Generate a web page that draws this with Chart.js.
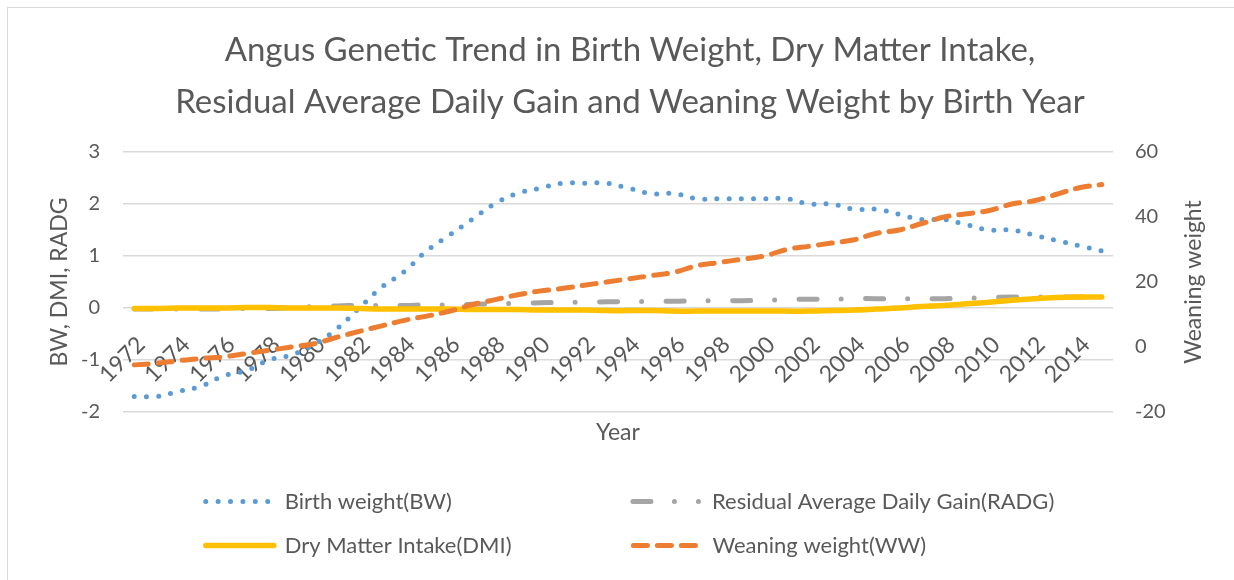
<!DOCTYPE html>
<html><head><meta charset="utf-8">
<script src="https://cdn.jsdelivr.net/npm/chart.js@4.4.1/dist/chart.umd.min.js"></script>
<style>
html,body{margin:0;padding:0;background:#fff;overflow:hidden;}
#wrap{position:relative;width:1234px;height:580px;overflow:hidden;}
#frame{position:absolute;left:7px;top:7px;width:1300px;height:700px;border:1px solid #d9d9d9;box-sizing:border-box;}
canvas{position:absolute;left:0;top:0;}
</style></head><body>
<div id="wrap"><div id="frame"></div><canvas id="c" width="1234" height="580"></canvas></div>
<script>
// ---- data ----
const years = ['1972','1973','1974','1975','1976','1977','1978','1979','1980','1981',
  '1982','1983','1984','1985','1986','1987','1988','1989','1990','1991',
  '1992','1993','1994','1995','1996','1997','1998','1999','2000','2001',
  '2002','2003','2004','2005','2006','2007','2008','2009','2010','2011',
  '2012','2013','2014','2015'];
const birthWeight = [-1.7,-1.7,-1.6,-1.5,-1.3,-1.2,-1.0,-0.9,-0.7,-0.4,
  0.0,0.4,0.7,1.1,1.4,1.7,2.0,2.2,2.3,2.4,
  2.4,2.4,2.3,2.2,2.2,2.1,2.1,2.1,2.1,2.1,
  2.0,2.0,1.9,1.9,1.8,1.7,1.7,1.6,1.5,1.5,
  1.4,1.3,1.2,1.1];
const radg = [-0.02,-0.02,-0.02,-0.02,-0.02,-0.01,-0.01,0.01,0.03,0.04,
  0.05,0.05,0.05,0.06,0.06,0.07,0.08,0.09,0.10,0.11,
  0.11,0.12,0.12,0.13,0.13,0.14,0.14,0.14,0.15,0.16,
  0.17,0.17,0.18,0.18,0.18,0.18,0.18,0.19,0.20,0.21,
  0.21,0.21,0.21,0.21];
const dmi = [-0.01,-0.01,0.0,0.0,0.0,0.01,0.01,0.0,0.0,0.0,
  -0.01,-0.02,-0.02,-0.02,-0.02,-0.03,-0.03,-0.03,-0.04,-0.04,
  -0.04,-0.05,-0.05,-0.05,-0.06,-0.06,-0.06,-0.06,-0.06,-0.06,
  -0.06,-0.05,-0.04,-0.02,0.0,0.03,0.05,0.08,0.11,0.15,
  0.18,0.20,0.21,0.21];
const weaningWeight = [-5.5,-5,-4.2,-3.5,-3,-2,-1,0,1,3,
  4.8,6.5,8.2,9.5,11,13,14.5,16,17.2,18,
  19,20,21,22,23,25,26,27,28,30,
  31,32,33,35,36,38,40,41,42,44,
  45,47,49,50];
const leftTicks = {min: -2, max: 3, step: 1};
const rightTicks = {min: -20, max: 60, step: 20};
const titleLines = ['Angus Genetic Trend in Birth Weight, Dry Matter Intake,',
  'Residual Average Daily Gain and Weaning Weight by Birth Year'];
const seriesNames = ['Birth weight(BW)','Residual Average Daily Gain(RADG)','Dry Matter Intake(DMI)','Weaning weight(WW)'];
const leftTitle = 'BW, DMI, RADG';
const rightTitle = 'Weaning weight';
const xTitle = 'Year';

// ---- style ----
const TXT = '#595959';
const FAM = 'Lato';
const LEG_SIZE = 22;
Chart.defaults.font.family = FAM;
Chart.defaults.color = TXT;

const extraText = {
  id: 'extraText',
  afterDraw(chart) {
    const {ctx, chartArea} = chart;
    ctx.save();
    ctx.fillStyle = TXT;
    ctx.font = '23px ' + FAM;
    ctx.textAlign = 'center';
    ctx.textBaseline = 'middle';
    ctx.fillText(xTitle, (chartArea.left + chartArea.right) / 2, chartArea.bottom + 21);
    ctx.translate(chart.scales.y1.right - 20, (chartArea.top + chartArea.bottom) / 2);
    ctx.rotate(-Math.PI / 2);
    ctx.fillText(rightTitle, 0, 0);
    ctx.restore();
  }
};

const legendDash = [[0, 12.4], [18, 23.5, 0, 24, 0, 100], [], [14, 10]];

new Chart(document.getElementById('c'), {
  type: 'line',
  data: {
    labels: years,
    datasets: [
      {label: seriesNames[0], data: birthWeight, yAxisID: 'y', borderColor: '#5B9BD5', borderWidth: 5,
       borderDash: [0, 12.2], borderCapStyle: 'round', order: 3},
      {label: seriesNames[1], data: radg, yAxisID: 'y', borderColor: '#A5A5A5', borderWidth: 5,
       borderDash: [18, 24, 0, 24.5], borderCapStyle: 'round', order: 2},
      {label: seriesNames[2], data: dmi, yAxisID: 'y', borderColor: '#FFC000', borderWidth: 5.5,
       borderCapStyle: 'round', order: 1},
      {label: seriesNames[3], data: weaningWeight, yAxisID: 'y1', borderColor: '#ED7D31', borderWidth: 5,
       borderDash: [14, 10], borderCapStyle: 'round', order: 0}
    ]
  },
  plugins: [extraText],
  options: {
    responsive: false,
    animation: false,
    elements: {point: {radius: 0, hoverRadius: 0}, line: {tension: 0.4, fill: false, borderJoinStyle: 'round'}},
    layout: {padding: {left: 46, right: 20, top: 0, bottom: 13.5}},
    plugins: {
      tooltip: {enabled: false},
      title: {display: true, text: titleLines, color: TXT,
        font: {family: FAM, size: 33, weight: '400', lineHeight: 52 / 33},
        padding: {top: 24, bottom: 24}},
      legend: {
        position: 'bottom', align: 'center',
        title: {display: true, text: '', font: {size: 20}, padding: {top: 11, bottom: 21.5}},
        labels: {
          usePointStyle: true, pointStyleWidth: 68, padding: 22, color: TXT,
          font: {size: LEG_SIZE},
          generateLabels(chart) {
            const ctx = chart.ctx;
            ctx.save();
            ctx.font = LEG_SIZE + 'px ' + FAM;
            const padTo = (t, w) => {
              let s = t;
              while (ctx.measureText(s + ' ').width <= w) s += ' ';
              while (ctx.measureText(s + '\u200A').width <= w) s += '\u200A';
              return s;
            };
            const w2 = Math.max(ctx.measureText(seriesNames[1]).width, ctx.measureText(seriesNames[3]).width, 340);
            const texts = [padTo(seriesNames[0], 327), padTo(seriesNames[1], w2), padTo(seriesNames[2], 327), padTo(seriesNames[3], w2)];
            ctx.restore();
            return chart.data.datasets.map((ds, i) => ({
              text: texts[i], fillStyle: ds.borderColor, strokeStyle: ds.borderColor,
              lineWidth: ds.borderWidth, lineDash: legendDash[i], lineCap: 'round',
              pointStyle: 'line', rotation: 180, fontColor: TXT, hidden: false, datasetIndex: i
            }));
          }
        }
      }
    },
    scales: {
      x: {
        type: 'category', position: {y: 0}, offset: true,
        grid: {display: false}, border: {display: false},
        ticks: {autoSkip: false, minRotation: 45, maxRotation: 45, padding: 15, labelOffset: 7,
          color: TXT, font: {size: 23},
          callback: (v, i) => (i % 2 === 0 ? years[i] : '')}
      },
      y: {
        position: 'left', min: leftTicks.min, max: leftTicks.max,
        ticks: {stepSize: leftTicks.step, padding: 23, color: TXT, font: {size: 20}},
        grid: {color: '#d9d9d9', lineWidth: 1.5, drawTicks: false},
        border: {display: false},
        title: {display: true, text: leftTitle, color: TXT, font: {size: 23}, padding: {top: 0, bottom: 0}},
        afterFit: (s) => { s.width = 77; }
      },
      y1: {
        position: 'right', min: rightTicks.min, max: rightTicks.max,
        ticks: {stepSize: rightTicks.step, padding: 22, color: TXT, font: {size: 20}},
        grid: {display: false, drawTicks: false},
        border: {display: false},
        afterFit: (s) => { s.width = 101; }
      }
    }
  }
});
</script>
</body></html>
